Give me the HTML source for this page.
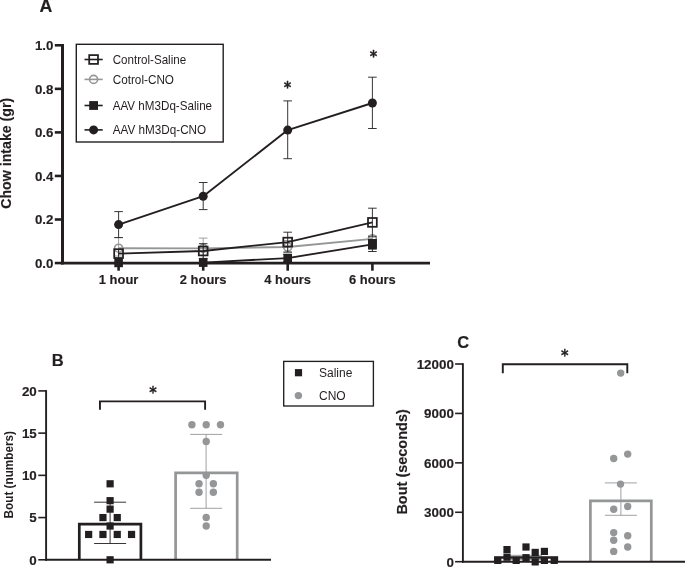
<!DOCTYPE html>
<html lang="en">
<head>
<meta charset="utf-8">
<title>Figure</title>
<style>
html,body{margin:0;padding:0;background:#fff;}
body{width:685px;height:567px;overflow:hidden;}
svg{display:block;font-family:"Liberation Sans", Arial, sans-serif;}
</style>
</head>
<body>
<svg width="685" height="567" viewBox="0 0 685 567">
<rect width="685" height="567" fill="#fff"/>
<line x1="62.50" y1="44.00" x2="62.50" y2="264.40" stroke="#231f20" stroke-width="3.0" stroke-linecap="butt"/>
<line x1="61.00" y1="263.05" x2="430.00" y2="263.05" stroke="#231f20" stroke-width="2.7" stroke-linecap="butt"/>
<line x1="54.80" y1="263.05" x2="62.50" y2="263.05" stroke="#231f20" stroke-width="2.6" stroke-linecap="butt"/>
<text x="53.40" y="267.75" font-size="13.3" font-weight="bold" stroke="#231f20" stroke-width="0.15" text-anchor="end" fill="#231f20">0.0</text>
<line x1="54.80" y1="219.50" x2="62.50" y2="219.50" stroke="#231f20" stroke-width="2.6" stroke-linecap="butt"/>
<text x="53.40" y="224.20" font-size="13.3" font-weight="bold" stroke="#231f20" stroke-width="0.15" text-anchor="end" fill="#231f20">0.2</text>
<line x1="54.80" y1="175.95" x2="62.50" y2="175.95" stroke="#231f20" stroke-width="2.6" stroke-linecap="butt"/>
<text x="53.40" y="180.65" font-size="13.3" font-weight="bold" stroke="#231f20" stroke-width="0.15" text-anchor="end" fill="#231f20">0.4</text>
<line x1="54.80" y1="132.40" x2="62.50" y2="132.40" stroke="#231f20" stroke-width="2.6" stroke-linecap="butt"/>
<text x="53.40" y="137.10" font-size="13.3" font-weight="bold" stroke="#231f20" stroke-width="0.15" text-anchor="end" fill="#231f20">0.6</text>
<line x1="54.80" y1="88.85" x2="62.50" y2="88.85" stroke="#231f20" stroke-width="2.6" stroke-linecap="butt"/>
<text x="53.40" y="93.55" font-size="13.3" font-weight="bold" stroke="#231f20" stroke-width="0.15" text-anchor="end" fill="#231f20">0.8</text>
<line x1="54.80" y1="45.30" x2="62.50" y2="45.30" stroke="#231f20" stroke-width="2.6" stroke-linecap="butt"/>
<text x="53.40" y="50.00" font-size="13.3" font-weight="bold" stroke="#231f20" stroke-width="0.15" text-anchor="end" fill="#231f20">1.0</text>
<line x1="118.60" y1="263.05" x2="118.60" y2="270.70" stroke="#231f20" stroke-width="2.6" stroke-linecap="butt"/>
<text x="118.60" y="284.30" font-size="12.95" font-weight="bold" stroke="#231f20" stroke-width="0.15" text-anchor="middle" fill="#231f20">1 hour</text>
<line x1="203.20" y1="263.05" x2="203.20" y2="270.70" stroke="#231f20" stroke-width="2.6" stroke-linecap="butt"/>
<text x="203.20" y="284.30" font-size="12.95" font-weight="bold" stroke="#231f20" stroke-width="0.15" text-anchor="middle" fill="#231f20">2 hours</text>
<line x1="287.70" y1="263.05" x2="287.70" y2="270.70" stroke="#231f20" stroke-width="2.6" stroke-linecap="butt"/>
<text x="287.70" y="284.30" font-size="12.95" font-weight="bold" stroke="#231f20" stroke-width="0.15" text-anchor="middle" fill="#231f20">4 hours</text>
<line x1="372.40" y1="263.05" x2="372.40" y2="270.70" stroke="#231f20" stroke-width="2.6" stroke-linecap="butt"/>
<text x="372.40" y="284.30" font-size="12.95" font-weight="bold" stroke="#231f20" stroke-width="0.15" text-anchor="middle" fill="#231f20">6 hours</text>
<text x="10.80" y="208.80" font-size="14.2" font-weight="bold" stroke="#231f20" stroke-width="0.15" textLength="111.00" lengthAdjust="spacingAndGlyphs" transform="rotate(-90 10.80 208.80)" fill="#231f20">Chow intake (gr)</text>
<text x="45.95" y="12.00" font-size="17.8" font-weight="bold" stroke="#231f20" stroke-width="0.15" text-anchor="middle" fill="#231f20">A</text>
<line x1="118.60" y1="237.60" x2="118.60" y2="256.00" stroke="#959698" stroke-width="0.9" stroke-linecap="butt"/>
<line x1="114.30" y1="237.60" x2="122.90" y2="237.60" stroke="#959698" stroke-width="0.9" stroke-linecap="butt"/>
<line x1="114.30" y1="256.00" x2="122.90" y2="256.00" stroke="#959698" stroke-width="0.9" stroke-linecap="butt"/>
<line x1="203.20" y1="238.10" x2="203.20" y2="258.50" stroke="#959698" stroke-width="0.9" stroke-linecap="butt"/>
<line x1="198.90" y1="238.10" x2="207.50" y2="238.10" stroke="#959698" stroke-width="0.9" stroke-linecap="butt"/>
<line x1="198.90" y1="258.50" x2="207.50" y2="258.50" stroke="#959698" stroke-width="0.9" stroke-linecap="butt"/>
<line x1="287.70" y1="240.50" x2="287.70" y2="252.70" stroke="#959698" stroke-width="0.9" stroke-linecap="butt"/>
<line x1="283.40" y1="240.50" x2="292.00" y2="240.50" stroke="#959698" stroke-width="0.9" stroke-linecap="butt"/>
<line x1="283.40" y1="252.70" x2="292.00" y2="252.70" stroke="#959698" stroke-width="0.9" stroke-linecap="butt"/>
<line x1="372.40" y1="235.50" x2="372.40" y2="242.00" stroke="#959698" stroke-width="0.9" stroke-linecap="butt"/>
<line x1="368.10" y1="235.50" x2="376.70" y2="235.50" stroke="#959698" stroke-width="0.9" stroke-linecap="butt"/>
<line x1="368.10" y1="242.00" x2="376.70" y2="242.00" stroke="#959698" stroke-width="0.9" stroke-linecap="butt"/>
<polyline points="118.60,248.20 203.20,248.30 287.70,247.00 372.40,238.80" fill="none" stroke="#959698" stroke-width="1.85" stroke-linejoin="round"/>
<circle cx="118.60" cy="248.20" r="4.0" fill="none" stroke="#959698" stroke-width="1.65"/>
<circle cx="203.20" cy="248.30" r="4.0" fill="none" stroke="#959698" stroke-width="1.65"/>
<circle cx="287.70" cy="247.00" r="4.0" fill="none" stroke="#959698" stroke-width="1.65"/>
<circle cx="372.40" cy="238.80" r="4.0" fill="none" stroke="#959698" stroke-width="1.65"/>
<line x1="118.60" y1="249.50" x2="118.60" y2="258.50" stroke="#231f20" stroke-width="0.9" stroke-linecap="butt"/>
<line x1="114.30" y1="249.50" x2="122.90" y2="249.50" stroke="#231f20" stroke-width="0.9" stroke-linecap="butt"/>
<line x1="114.30" y1="258.50" x2="122.90" y2="258.50" stroke="#231f20" stroke-width="0.9" stroke-linecap="butt"/>
<line x1="203.20" y1="243.70" x2="203.20" y2="258.40" stroke="#231f20" stroke-width="0.9" stroke-linecap="butt"/>
<line x1="198.90" y1="243.70" x2="207.50" y2="243.70" stroke="#231f20" stroke-width="0.9" stroke-linecap="butt"/>
<line x1="198.90" y1="258.40" x2="207.50" y2="258.40" stroke="#231f20" stroke-width="0.9" stroke-linecap="butt"/>
<line x1="287.70" y1="232.20" x2="287.70" y2="252.00" stroke="#231f20" stroke-width="0.9" stroke-linecap="butt"/>
<line x1="283.40" y1="232.20" x2="292.00" y2="232.20" stroke="#231f20" stroke-width="0.9" stroke-linecap="butt"/>
<line x1="283.40" y1="252.00" x2="292.00" y2="252.00" stroke="#231f20" stroke-width="0.9" stroke-linecap="butt"/>
<line x1="372.40" y1="208.20" x2="372.40" y2="236.80" stroke="#231f20" stroke-width="0.9" stroke-linecap="butt"/>
<line x1="368.10" y1="208.20" x2="376.70" y2="208.20" stroke="#231f20" stroke-width="0.9" stroke-linecap="butt"/>
<line x1="368.10" y1="236.80" x2="376.70" y2="236.80" stroke="#231f20" stroke-width="0.9" stroke-linecap="butt"/>
<polyline points="118.60,253.60 203.20,251.00 287.70,242.10 372.40,222.40" fill="none" stroke="#231f20" stroke-width="1.85" stroke-linejoin="round"/>
<rect x="114.20" y="249.20" width="8.8" height="8.8" fill="none" stroke="#231f20" stroke-width="1.75"/>
<rect x="198.80" y="246.60" width="8.8" height="8.8" fill="none" stroke="#231f20" stroke-width="1.75"/>
<rect x="283.30" y="237.70" width="8.8" height="8.8" fill="none" stroke="#231f20" stroke-width="1.75"/>
<rect x="368.00" y="218.00" width="8.8" height="8.8" fill="none" stroke="#231f20" stroke-width="1.75"/>
<line x1="287.70" y1="254.50" x2="287.70" y2="261.70" stroke="#231f20" stroke-width="0.9" stroke-linecap="butt"/>
<line x1="283.40" y1="254.50" x2="292.00" y2="254.50" stroke="#231f20" stroke-width="0.9" stroke-linecap="butt"/>
<line x1="283.40" y1="261.70" x2="292.00" y2="261.70" stroke="#231f20" stroke-width="0.9" stroke-linecap="butt"/>
<line x1="372.40" y1="239.50" x2="372.40" y2="251.50" stroke="#231f20" stroke-width="0.9" stroke-linecap="butt"/>
<line x1="368.10" y1="239.50" x2="376.70" y2="239.50" stroke="#231f20" stroke-width="0.9" stroke-linecap="butt"/>
<line x1="368.10" y1="251.50" x2="376.70" y2="251.50" stroke="#231f20" stroke-width="0.9" stroke-linecap="butt"/>
<polyline points="118.60,262.90 203.20,262.60 287.70,258.10 372.40,244.30" fill="none" stroke="#231f20" stroke-width="1.85" stroke-linejoin="round"/>
<rect x="114.30" y="258.60" width="8.6" height="8.6" fill="#231f20"/>
<rect x="198.90" y="258.30" width="8.6" height="8.6" fill="#231f20"/>
<rect x="283.40" y="253.80" width="8.6" height="8.6" fill="#231f20"/>
<rect x="368.10" y="240.00" width="8.6" height="8.6" fill="#231f20"/>
<rect x="368.00" y="239.10" width="8.8" height="10.5" fill="#231f20"/>
<line x1="118.60" y1="211.60" x2="118.60" y2="237.60" stroke="#231f20" stroke-width="0.9" stroke-linecap="butt"/>
<line x1="114.30" y1="211.60" x2="122.90" y2="211.60" stroke="#231f20" stroke-width="0.9" stroke-linecap="butt"/>
<line x1="114.30" y1="237.60" x2="122.90" y2="237.60" stroke="#231f20" stroke-width="0.9" stroke-linecap="butt"/>
<line x1="203.20" y1="182.50" x2="203.20" y2="209.60" stroke="#231f20" stroke-width="0.9" stroke-linecap="butt"/>
<line x1="198.90" y1="182.50" x2="207.50" y2="182.50" stroke="#231f20" stroke-width="0.9" stroke-linecap="butt"/>
<line x1="198.90" y1="209.60" x2="207.50" y2="209.60" stroke="#231f20" stroke-width="0.9" stroke-linecap="butt"/>
<line x1="287.70" y1="100.90" x2="287.70" y2="158.70" stroke="#231f20" stroke-width="0.9" stroke-linecap="butt"/>
<line x1="283.40" y1="100.90" x2="292.00" y2="100.90" stroke="#231f20" stroke-width="0.9" stroke-linecap="butt"/>
<line x1="283.40" y1="158.70" x2="292.00" y2="158.70" stroke="#231f20" stroke-width="0.9" stroke-linecap="butt"/>
<line x1="372.40" y1="77.20" x2="372.40" y2="128.50" stroke="#231f20" stroke-width="0.9" stroke-linecap="butt"/>
<line x1="368.10" y1="77.20" x2="376.70" y2="77.20" stroke="#231f20" stroke-width="0.9" stroke-linecap="butt"/>
<line x1="368.10" y1="128.50" x2="376.70" y2="128.50" stroke="#231f20" stroke-width="0.9" stroke-linecap="butt"/>
<polyline points="118.60,224.60 203.20,196.20 287.70,130.10 372.40,103.00" fill="none" stroke="#231f20" stroke-width="1.85" stroke-linejoin="round"/>
<circle cx="118.60" cy="224.60" r="4.5" fill="#231f20"/>
<circle cx="203.20" cy="196.20" r="4.5" fill="#231f20"/>
<circle cx="287.70" cy="130.10" r="4.5" fill="#231f20"/>
<circle cx="372.40" cy="103.00" r="4.5" fill="#231f20"/>
<text transform="translate(287.50 85.10) scale(0.9 1)" x="0" y="8.24" font-size="16.0" font-weight="bold" text-anchor="middle" font-family='"DejaVu Sans", "Liberation Sans", sans-serif' fill="#231f20" stroke="#231f20" stroke-width="0.3" stroke-linejoin="round">*</text>
<text transform="translate(373.50 53.70) scale(0.9 1)" x="0" y="8.24" font-size="16.0" font-weight="bold" text-anchor="middle" font-family='"DejaVu Sans", "Liberation Sans", sans-serif' fill="#231f20" stroke="#231f20" stroke-width="0.3" stroke-linejoin="round">*</text>
<rect x="76.3" y="44.3" width="146.9" height="97.7" fill="#fff" stroke="#231f20" stroke-width="1.4"/>
<line x1="84.50" y1="59.50" x2="102.70" y2="59.50" stroke="#231f20" stroke-width="1.6" stroke-linecap="butt"/>
<rect x="89.20" y="55.10" width="8.8" height="8.8" fill="none" stroke="#231f20" stroke-width="1.75"/>
<line x1="84.50" y1="79.40" x2="102.70" y2="79.40" stroke="#959698" stroke-width="1.6" stroke-linecap="butt"/>
<circle cx="93.60" cy="79.40" r="4.0" fill="none" stroke="#959698" stroke-width="1.65"/>
<line x1="84.50" y1="105.50" x2="102.70" y2="105.50" stroke="#231f20" stroke-width="1.6" stroke-linecap="butt"/>
<rect x="89.20" y="101.10" width="8.8" height="8.8" fill="#231f20"/>
<line x1="84.50" y1="129.90" x2="102.70" y2="129.90" stroke="#231f20" stroke-width="1.6" stroke-linecap="butt"/>
<circle cx="93.60" cy="129.90" r="4.5" fill="#231f20"/>
<text x="112.70" y="63.60" font-size="11.9" textLength="73.50" lengthAdjust="spacingAndGlyphs" fill="#231f20">Control-Saline</text>
<text x="112.70" y="83.70" font-size="11.9" textLength="61.30" lengthAdjust="spacingAndGlyphs" fill="#231f20">Cotrol-CNO</text>
<text x="112.70" y="109.80" font-size="11.9" textLength="99.40" lengthAdjust="spacingAndGlyphs" fill="#231f20">AAV hM3Dq-Saline</text>
<text x="112.70" y="133.70" font-size="11.9" textLength="93.50" lengthAdjust="spacingAndGlyphs" fill="#231f20">AAV hM3Dq-CNO</text>
<line x1="38.30" y1="559.80" x2="46.10" y2="559.80" stroke="#231f20" stroke-width="1.6" stroke-linecap="butt"/>
<text x="36.80" y="564.60" font-size="13.4" font-weight="bold" stroke="#231f20" stroke-width="0.15" text-anchor="end" fill="#231f20">0</text>
<line x1="38.30" y1="517.57" x2="46.10" y2="517.57" stroke="#231f20" stroke-width="1.6" stroke-linecap="butt"/>
<text x="36.80" y="522.37" font-size="13.4" font-weight="bold" stroke="#231f20" stroke-width="0.15" text-anchor="end" fill="#231f20">5</text>
<line x1="38.30" y1="475.35" x2="46.10" y2="475.35" stroke="#231f20" stroke-width="1.6" stroke-linecap="butt"/>
<text x="36.80" y="480.15" font-size="13.4" font-weight="bold" stroke="#231f20" stroke-width="0.15" text-anchor="end" fill="#231f20">10</text>
<line x1="38.30" y1="433.12" x2="46.10" y2="433.12" stroke="#231f20" stroke-width="1.6" stroke-linecap="butt"/>
<text x="36.80" y="437.93" font-size="13.4" font-weight="bold" stroke="#231f20" stroke-width="0.15" text-anchor="end" fill="#231f20">15</text>
<line x1="38.30" y1="390.90" x2="46.10" y2="390.90" stroke="#231f20" stroke-width="1.6" stroke-linecap="butt"/>
<text x="36.80" y="395.70" font-size="13.4" font-weight="bold" stroke="#231f20" stroke-width="0.15" text-anchor="end" fill="#231f20">20</text>
<text x="13.20" y="518.40" font-size="12.2" font-weight="bold" stroke="#231f20" stroke-width="0" textLength="87.40" lengthAdjust="spacingAndGlyphs" transform="rotate(-90 13.20 518.40)" fill="#231f20">Bout (numbers)</text>
<text x="57.60" y="365.90" font-size="16.5" font-weight="bold" stroke="#231f20" stroke-width="0.15" text-anchor="middle" fill="#231f20">B</text>
<path d="M79.30,559.80 V524.20 H140.90 V559.80" fill="none" stroke="#231f20" stroke-width="2.7"/>
<line x1="110.10" y1="502.20" x2="110.10" y2="543.50" stroke="#231f20" stroke-width="0.9" stroke-linecap="butt"/>
<line x1="94.10" y1="502.20" x2="126.10" y2="502.20" stroke="#231f20" stroke-width="0.9" stroke-linecap="butt"/>
<line x1="94.10" y1="543.50" x2="126.10" y2="543.50" stroke="#231f20" stroke-width="0.9" stroke-linecap="butt"/>
<path d="M175.60,559.80 V472.90 H237.20 V559.80" fill="none" stroke="#959698" stroke-width="2.7"/>
<line x1="206.10" y1="434.40" x2="206.10" y2="508.30" stroke="#959698" stroke-width="0.9" stroke-linecap="butt"/>
<line x1="190.10" y1="434.40" x2="222.10" y2="434.40" stroke="#959698" stroke-width="0.9" stroke-linecap="butt"/>
<line x1="190.10" y1="508.30" x2="222.10" y2="508.30" stroke="#959698" stroke-width="0.9" stroke-linecap="butt"/>
<line x1="46.10" y1="390.10" x2="46.10" y2="560.75" stroke="#231f20" stroke-width="1.9" stroke-linecap="butt"/>
<line x1="45.15" y1="559.80" x2="271.00" y2="559.80" stroke="#231f20" stroke-width="1.9" stroke-linecap="butt"/>
<rect x="106.50" y="480.19" width="7.2" height="7.2" fill="#231f20"/>
<rect x="106.50" y="497.08" width="7.2" height="7.2" fill="#231f20"/>
<rect x="106.50" y="505.53" width="7.2" height="7.2" fill="#231f20"/>
<rect x="99.35" y="513.97" width="7.2" height="7.2" fill="#231f20"/>
<rect x="113.65" y="513.97" width="7.2" height="7.2" fill="#231f20"/>
<rect x="106.50" y="522.42" width="7.2" height="7.2" fill="#231f20"/>
<rect x="85.05" y="530.86" width="7.2" height="7.2" fill="#231f20"/>
<rect x="99.35" y="530.86" width="7.2" height="7.2" fill="#231f20"/>
<rect x="113.65" y="530.86" width="7.2" height="7.2" fill="#231f20"/>
<rect x="127.95" y="530.86" width="7.2" height="7.2" fill="#231f20"/>
<rect x="106.50" y="556.20" width="7.2" height="7.2" fill="#231f20"/>
<circle cx="191.90" cy="424.68" r="3.7" fill="#959698"/>
<circle cx="206.20" cy="424.68" r="3.7" fill="#959698"/>
<circle cx="220.50" cy="424.68" r="3.7" fill="#959698"/>
<circle cx="206.20" cy="441.57" r="3.7" fill="#959698"/>
<circle cx="206.20" cy="475.35" r="3.7" fill="#959698"/>
<circle cx="199.05" cy="483.79" r="3.7" fill="#959698"/>
<circle cx="213.35" cy="483.79" r="3.7" fill="#959698"/>
<circle cx="199.05" cy="492.24" r="3.7" fill="#959698"/>
<circle cx="213.35" cy="492.24" r="3.7" fill="#959698"/>
<circle cx="206.20" cy="517.57" r="3.7" fill="#959698"/>
<circle cx="206.20" cy="526.02" r="3.7" fill="#959698"/>
<path d="M99.95,409.75 V401.4 H205.1 V409.75" fill="none" stroke="#231f20" stroke-width="1.9"/>
<text transform="translate(152.90 390.00) scale(0.9 1)" x="0" y="8.24" font-size="16.0" font-weight="bold" text-anchor="middle" font-family='"DejaVu Sans", "Liberation Sans", sans-serif' fill="#231f20" stroke="#231f20" stroke-width="0.3" stroke-linejoin="round">*</text>
<rect x="283.7" y="361.4" width="89.7" height="44.6" fill="#fff" stroke="#231f20" stroke-width="1.35"/>
<rect x="294.90" y="369.10" width="7.2" height="7.2" fill="#231f20"/>
<circle cx="298.40" cy="395.60" r="3.7" fill="#959698"/>
<text x="319.00" y="376.50" font-size="12" fill="#231f20">Saline</text>
<text x="319.00" y="399.80" font-size="12" fill="#231f20">CNO</text>
<line x1="455.10" y1="561.70" x2="462.90" y2="561.70" stroke="#231f20" stroke-width="1.6" stroke-linecap="butt"/>
<text x="453.90" y="566.60" font-size="13.4" font-weight="bold" stroke="#231f20" stroke-width="0.15" text-anchor="end" fill="#231f20">0</text>
<line x1="455.10" y1="512.28" x2="462.90" y2="512.28" stroke="#231f20" stroke-width="1.6" stroke-linecap="butt"/>
<text x="453.90" y="517.18" font-size="13.4" font-weight="bold" stroke="#231f20" stroke-width="0.15" text-anchor="end" fill="#231f20">3000</text>
<line x1="455.10" y1="462.85" x2="462.90" y2="462.85" stroke="#231f20" stroke-width="1.6" stroke-linecap="butt"/>
<text x="453.90" y="467.75" font-size="13.4" font-weight="bold" stroke="#231f20" stroke-width="0.15" text-anchor="end" fill="#231f20">6000</text>
<line x1="455.10" y1="413.43" x2="462.90" y2="413.43" stroke="#231f20" stroke-width="1.6" stroke-linecap="butt"/>
<text x="453.90" y="418.32" font-size="13.4" font-weight="bold" stroke="#231f20" stroke-width="0.15" text-anchor="end" fill="#231f20">9000</text>
<line x1="455.10" y1="364.00" x2="462.90" y2="364.00" stroke="#231f20" stroke-width="1.6" stroke-linecap="butt"/>
<text x="453.90" y="368.90" font-size="13.4" font-weight="bold" stroke="#231f20" stroke-width="0.15" text-anchor="end" fill="#231f20">12000</text>
<text x="407.20" y="514.60" font-size="14.5" font-weight="bold" stroke="#231f20" stroke-width="0.15" textLength="105.40" lengthAdjust="spacingAndGlyphs" transform="rotate(-90 407.20 514.60)" fill="#231f20">Bout (seconds)</text>
<text x="463.10" y="347.50" font-size="16.5" font-weight="bold" stroke="#231f20" stroke-width="0.15" text-anchor="middle" fill="#231f20">C</text>
<path d="M495.50,561.70 V557.50 H556.80 V561.70" fill="none" stroke="#231f20" stroke-width="2.7"/>
<line x1="526.00" y1="555.30" x2="526.00" y2="559.40" stroke="#999" stroke-width="1.0" stroke-linecap="butt"/>
<line x1="510.00" y1="555.30" x2="542.00" y2="555.30" stroke="#999" stroke-width="1.0" stroke-linecap="butt"/>
<line x1="510.00" y1="559.40" x2="542.00" y2="559.40" stroke="#999" stroke-width="1.0" stroke-linecap="butt"/>
<path d="M590.40,561.70 V500.90 H651.30 V561.70" fill="none" stroke="#959698" stroke-width="2.7"/>
<line x1="620.90" y1="482.90" x2="620.90" y2="515.30" stroke="#959698" stroke-width="0.9" stroke-linecap="butt"/>
<line x1="604.90" y1="482.90" x2="636.90" y2="482.90" stroke="#959698" stroke-width="0.9" stroke-linecap="butt"/>
<line x1="604.90" y1="515.30" x2="636.90" y2="515.30" stroke="#959698" stroke-width="0.9" stroke-linecap="butt"/>
<line x1="462.90" y1="363.20" x2="462.90" y2="562.65" stroke="#231f20" stroke-width="1.9" stroke-linecap="butt"/>
<line x1="461.95" y1="561.70" x2="685.00" y2="561.70" stroke="#231f20" stroke-width="1.9" stroke-linecap="butt"/>
<rect x="494.20" y="556.80" width="7.2" height="7.2" fill="#231f20"/>
<rect x="512.60" y="556.80" width="7.2" height="7.2" fill="#231f20"/>
<rect x="540.80" y="556.80" width="7.2" height="7.2" fill="#231f20"/>
<rect x="550.60" y="556.80" width="7.2" height="7.2" fill="#231f20"/>
<rect x="531.60" y="558.30" width="7.2" height="7.2" fill="#231f20"/>
<rect x="503.40" y="553.60" width="7.2" height="7.2" fill="#231f20"/>
<rect x="522.40" y="554.10" width="7.2" height="7.2" fill="#231f20"/>
<rect x="503.40" y="546.00" width="7.2" height="7.2" fill="#231f20"/>
<rect x="522.40" y="543.40" width="7.2" height="7.2" fill="#231f20"/>
<rect x="531.60" y="548.80" width="7.2" height="7.2" fill="#231f20"/>
<rect x="540.80" y="547.80" width="7.2" height="7.2" fill="#231f20"/>
<circle cx="620.70" cy="373.10" r="3.7" fill="#959698"/>
<circle cx="613.70" cy="458.50" r="3.7" fill="#959698"/>
<circle cx="627.70" cy="454.10" r="3.7" fill="#959698"/>
<circle cx="620.50" cy="484.10" r="3.7" fill="#959698"/>
<circle cx="613.70" cy="509.30" r="3.7" fill="#959698"/>
<circle cx="627.70" cy="506.50" r="3.7" fill="#959698"/>
<circle cx="613.70" cy="532.60" r="3.7" fill="#959698"/>
<circle cx="627.70" cy="535.80" r="3.7" fill="#959698"/>
<circle cx="613.70" cy="540.20" r="3.7" fill="#959698"/>
<circle cx="627.70" cy="547.00" r="3.7" fill="#959698"/>
<circle cx="613.70" cy="551.40" r="3.7" fill="#959698"/>
<path d="M502.8,373.2 V364.25 H627.3 V373.2" fill="none" stroke="#231f20" stroke-width="1.9"/>
<text transform="translate(564.80 352.30) scale(0.9 1)" x="0" y="8.24" font-size="16.0" font-weight="bold" text-anchor="middle" font-family='"DejaVu Sans", "Liberation Sans", sans-serif' fill="#231f20" stroke="#231f20" stroke-width="0.3" stroke-linejoin="round">*</text>
</svg>
</body>
</html>
